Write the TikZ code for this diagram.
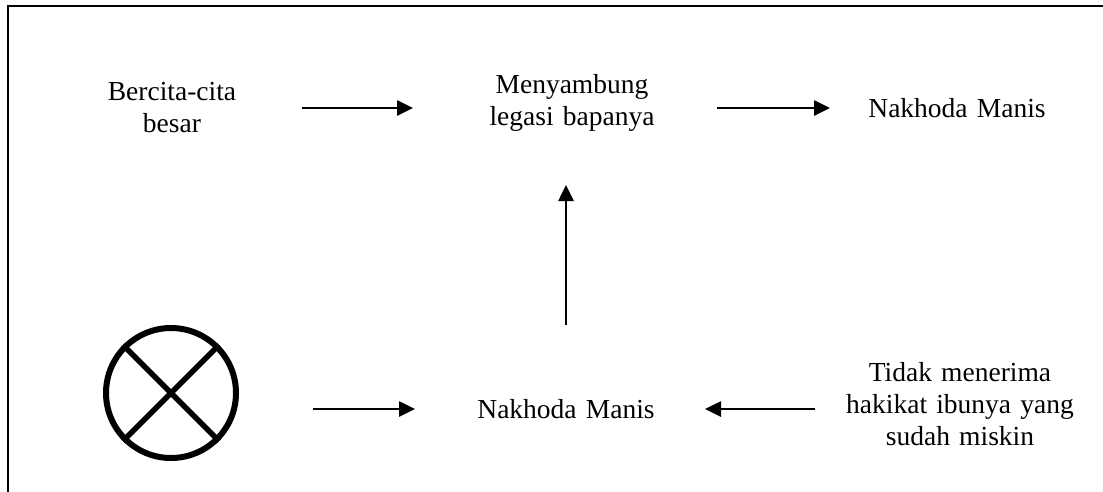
\documentclass[tikz,border=0pt]{standalone}
\usepackage{fontspec}
\setmainfont{Liberation Serif}
\usetikzlibrary{arrows.meta}
\begin{document}
\begin{tikzpicture}[x=1pt,y=-1pt,
  lbl/.style={inner sep=0pt, align=center, font=\fontsize{27.5}{32}\selectfont},
  arr/.style={line width=2.6pt, -{Triangle[length=16pt,width=15pt]}},
  frame/.style={line width=2.5pt}]
\useasboundingbox (0,0) rectangle (1103,491);
\draw[frame] (8,495) -- (8,6) -- (1106,6);
\node[lbl, text width=160pt] (bercita) at (172,108) {Bercita-cita\\besar};
\node[lbl, text width=200pt] (menyambung) at (572,103) {Menyambung\\legasi bapanya};
\node[lbl, text width=220pt] (nakhodaA) at (957,108) {Nakhoda Manis};
\node[draw, circle, minimum size=130pt, line width=6pt, inner sep=0pt] (blok) at (171,393) {};
\draw[line width=5.5pt] (blok.45) -- (blok.225);
\draw[line width=5.5pt] (blok.135) -- (blok.315);
\node[lbl, text width=220pt] (nakhodaB) at (566,409) {Nakhoda Manis};
\node[lbl, text width=240pt] (tidak) at (960,404) {Tidak menerima\\hakikat ibunya yang\\sudah miskin};
\draw[arr, shorten <=130pt, shorten >=159pt] (bercita.center) -- (bercita.center -| menyambung.center);
\draw[arr, shorten <=145pt, shorten >=127pt] (nakhodaA.center -| menyambung.center) -- (nakhodaA.center);
\draw[arr, shorten <=142pt, shorten >=151pt] (blok.center |- nakhodaB.center) -- (nakhodaB.center);
\draw[arr, shorten <=145pt, shorten >=139pt] (tidak.center |- nakhodaB.center) -- (nakhodaB.center);
\draw[arr, shorten <=84pt, shorten >=82pt] (nakhodaB.center) -- (nakhodaB.center |- menyambung.center);
\end{tikzpicture}
\end{document}
